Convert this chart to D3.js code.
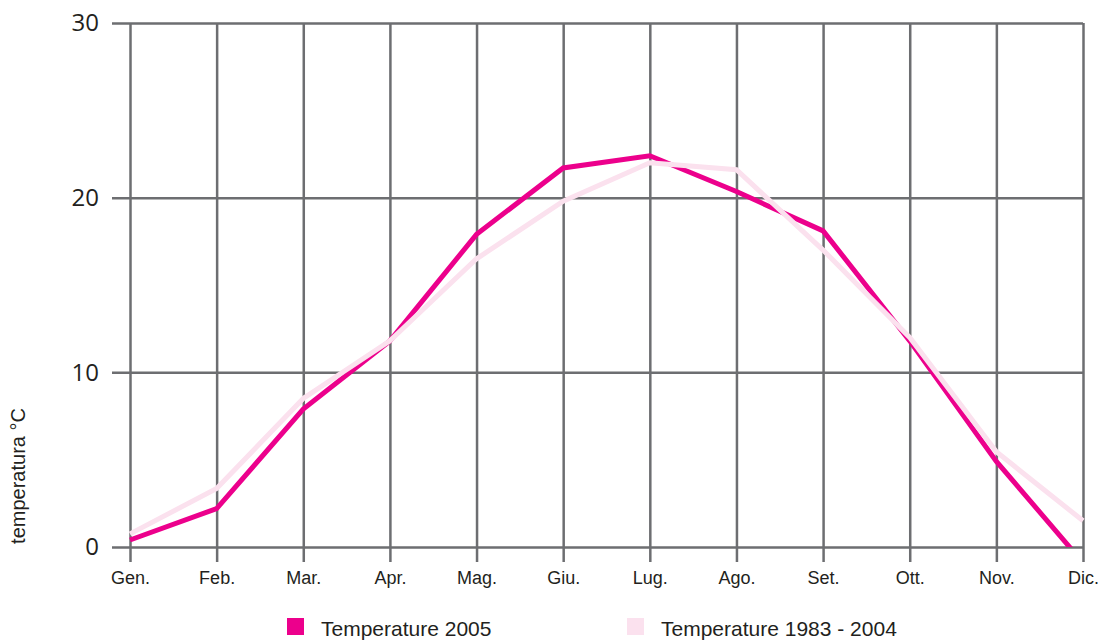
<!DOCTYPE html>
<html>
<head>
<meta charset="utf-8">
<script src="https://cdn.jsdelivr.net/npm/d3@7"></script>
<style>
  body { margin: 0; background: #fff; }
  text { fill: #231f20; }
</style>
</head>
<body>
<div id="chart"></div>
<script>
// months on the x axis
const months = ["Gen.", "Feb.", "Mar.", "Apr.", "Mag.", "Giu.", "Lug.", "Ago.", "Set.", "Ott.", "Nov.", "Dic."];
// temperature 2005 (°C)
const temp2005 = [0.4, 2.2, 7.9, 11.8, 17.9, 21.7, 22.4, 20.35, 18.1, 11.8, 4.9, -0.9];
// mean temperature 1983 - 2004 (°C)
const tempMean = [0.75, 3.35, 8.5, 11.8, 16.5, 19.8, 22.0, 21.6, 17.0, 12.0, 5.45, 1.5];
const yTicks = [0, 10, 20, 30];
const seriesNames = ["Temperature 2005", "Temperature 1983 - 2004"];
const seriesColors = ["#ec008c", "#fbe1ee"];

const width = 1102, height = 640;
const plotLeft = 130, plotRight = 1083, plotTop = 23, plotBottom = 547;
const gridStart = 112;
const gridColor = "#6d6e71";

const svg = d3.select("#chart").append("svg")
  .attr("width", width)
  .attr("height", height);

const x = d3.scalePoint().domain(months).range([plotLeft, plotRight]);
const y = d3.scaleLinear().domain([0, 30]).range([plotBottom, plotTop]);

// lines stop at the zero line
svg.append("defs").append("clipPath")
  .attr("id", "zero-clip")
  .append("rect")
  .attr("x", 0).attr("y", 0)
  .attr("width", width).attr("height", plotBottom);

// horizontal grid (acts as y axis ticks too)
const yAxis = d3.axisLeft(y)
  .tickValues(yTicks)
  .tickSize(0)
  .tickFormat(d3.format("d"));

const gy = svg.append("g")
  .attr("transform", "translate(" + gridStart + ",0)")
  .call(yAxis);
gy.select(".domain").remove();
gy.selectAll(".tick line")
  .attr("x1", 0)
  .attr("x2", plotRight - gridStart)
  .attr("stroke", gridColor)
  .attr("stroke-width", 2.5);
gy.selectAll(".tick text")
  .attr("x", -13)
  .style("font-family", "'Open Sans', sans-serif")
  .style("font-size", "24px")
  .attr("fill", "#231f20");

// vertical grid + month labels
const xAxis = d3.axisBottom(x)
  .tickSize(plotBottom - plotTop + 15)
  .tickPadding(9);

const gx = svg.append("g")
  .attr("transform", "translate(0," + plotTop + ")")
  .call(xAxis);
gx.select(".domain").remove();
gx.selectAll(".tick line")
  .attr("stroke", gridColor)
  .attr("stroke-width", 2.5);
gx.selectAll(".tick text")
  .style("font-family", "'Liberation Sans', Arial, sans-serif")
  .style("font-size", "18px")
  .attr("fill", "#231f20");

// y axis title
svg.append("text")
  .attr("transform", "translate(25,476) rotate(-90)")
  .attr("text-anchor", "middle")
  .style("font-family", "'Liberation Sans', Arial, sans-serif")
  .style("font-size", "20px")
  .text("temperatura °C");

const line = d3.line()
  .x((d, i) => x(months[i]))
  .y(d => y(d));

const lines = svg.append("g").attr("clip-path", "url(#zero-clip)");

[temp2005, tempMean].forEach((series, k) => {
  lines.append("path")
    .datum(series)
    .attr("fill", "none")
    .attr("stroke", seriesColors[k])
    .attr("stroke-width", 5)
    .attr("stroke-linejoin", "miter")
    .attr("d", line);
});

// legend
const legendX = [287, 627];
const legend = svg.append("g");
seriesNames.forEach((name, k) => {
  legend.append("rect")
    .attr("x", legendX[k])
    .attr("y", 618)
    .attr("width", 17)
    .attr("height", 17)
    .attr("fill", seriesColors[k]);
  legend.append("text")
    .attr("x", legendX[k] + 34)
    .attr("y", 636)
    .style("font-family", "'Liberation Sans', Arial, sans-serif")
    .style("font-size", "21px")
    .text(name);
});
</script>
</body>
</html>
